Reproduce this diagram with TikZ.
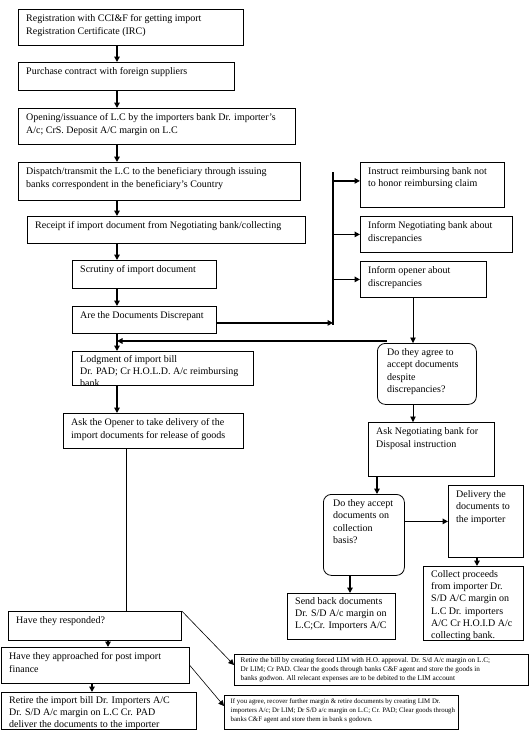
\documentclass[tikz,border=0pt]{standalone}
\usepackage{fontspec}
\setmainfont{Liberation Serif}
\usetikzlibrary{arrows.meta}

\tikzset{
  box/.style={draw, line width=0.8pt, anchor=north west, inner sep=0pt},
  roundbox/.style={box, rounded corners=8pt},
  boxtext/.style={anchor=north west, align=left, inner xsep=8pt, inner ysep=5.5pt,
    font=\fontsize{10}{12.3}\selectfont},
  smalltext/.style={boxtext, inner xsep=6.5pt, inner ysep=3.5pt, font=\fontsize{7.2}{9}\selectfont},
  link/.style={line width=1.6pt, -{Triangle[length=5.5pt,width=5.5pt]}},
  thinlink/.style={line width=0.6pt, -{Triangle[length=5.5pt,width=5.5pt]}},
}

% #1 box style, #2 name, #3 x, #4 y, #5 width, #6 height, #7 text style, #8 text
\newcommand{\stepnode}[8]{%
  \node[#1, minimum width=#5pt, minimum height=#6pt] (#2) at (#3,#4) {};
  \begin{scope}
    \clip (#2.north west) rectangle (#2.south east);
    \node[#7] (#2-txt) at (#2.north west) {#8};
  \end{scope}}

\begin{document}
\begin{tikzpicture}[x=1pt, y=-1pt]
  \useasboundingbox (0,0) rectangle (530,756);
  \path (117,0) coordinate (spine);
  \path (126,0) coordinate (drop);
  \path (413,0) coordinate (rcol);
  \path (333,172) coordinate (forktop);
  \path (333,325) coordinate (forkbot);

  \stepnode{box}{reg}{18}{9}{225}{36}{boxtext}{Registration with CCI\&F for getting import\\Registration Certificate (IRC)}
  \stepnode{box}{purch}{18}{62}{216}{28}{boxtext}{Purchase contract with foreign suppliers}
  \stepnode{box}{open}{18}{108}{277}{36}{boxtext}{Opening/issuance of L.C by the importers bank Dr. importer’s\\A/c; CrS. Deposit A/C margin on L.C}
  \stepnode{box}{disp}{18}{162}{282}{38}{boxtext}{Dispatch/transmit the L.C to the beneficiary through issuing\\banks correspondent in the beneficiary’s Country}
  \stepnode{box}{receipt}{27}{216}{278}{27}{boxtext}{Receipt if import document from Negotiating bank/collecting}
  \stepnode{box}{scrut}{72}{260}{144}{28}{boxtext}{Scrutiny of import document}
  \stepnode{box}{discr}{72}{306}{144}{27}{boxtext}{Are the Documents Discrepant}
  \stepnode{box}{lodg}{72}{351}{181}{34}{boxtext, inner ysep=4pt}{Lodgment of import bill\\Dr. PAD; Cr H.O.L.D. A/c reimbursing\\bank}
  \stepnode{box}{opener}{63}{413}{180}{35}{boxtext}{Ask the Opener to take delivery of the\\import documents for release of goods}
  \stepnode{box}{resp}{8}{611}{173}{29}{boxtext}{Have they responded?}
  \stepnode{box}{appr}{1}{647}{188}{36}{boxtext}{Have they approached for post import\\finance}
  \stepnode{box}{retimp}{1}{692}{195}{37}{boxtext, inner ysep=4pt}{Retire the import bill Dr. Importers A/C\\Dr. S/D A/c margin on L.C Cr. PAD\\deliver the documents to the importer}

  \stepnode{box}{instr}{360}{162}{144}{45}{boxtext}{Instruct reimbursing bank not\\to honor reimbursing claim}
  \stepnode{box}{infneg}{360}{216}{152}{36}{boxtext}{Inform Negotiating bank about\\discrepancies}
  \stepnode{box}{infop}{360}{261}{126}{36}{boxtext}{Inform opener about\\discrepancies}
  \stepnode{roundbox}{agree}{377}{343}{99}{61}{boxtext, inner xsep=10pt}{Do they agree to\\accept documents\\despite\\discrepancies?}
  \stepnode{box}{askneg}{368}{422}{126}{54}{boxtext}{Ask Negotiating bank for\\Disposal instruction}
  \stepnode{roundbox}{accept}{323}{494}{81}{81}{boxtext, inner xsep=10pt}{Do they accept\\documents on\\collection\\basis?}
  \stepnode{box}{deliver}{448}{485}{75}{72}{boxtext}{Delivery the\\documents to\\the importer}
  \stepnode{box}{collect}{423}{566}{100}{74}{boxtext, inner ysep=4pt}{Collect proceeds\\from importer Dr.\\S/D A/C margin on\\L.C Dr. importers\\A/C Cr H.O.I.D A/c\\collecting bank.}
  \stepnode{box}{sendback}{287}{593}{108}{46}{boxtext, inner ysep=4pt}{Send back documents\\Dr. S/D A/c margin on\\L.C;Cr. Importers A/C}
  \stepnode{box}{forced}{234}{654}{294}{31}{smalltext}{Retire the bill by creating forced LIM with H.O. approval. Dr. S/d A/c margin on L.C;\\Dr LIM; Cr PAD. Clear the goods through banks C\&F agent and store the goods in\\banks godwon. All relecant expenses are to be debited to the LIM account}
  \stepnode{box}{agreeLIM}{224}{695}{234}{34}{smalltext, font=\fontsize{6.85}{9}\selectfont}{If you agree, recover further margin \& retire documents by creating LIM Dr.\\importers A/c; Dr LIM; Dr S/D a/c margin on L.C; Cr. PAD; Clear goods through\\banks C\&F agent and store them in bank s godown.}

  \draw[link] (reg.south -| spine) -- (purch.north -| spine);
  \draw[link] (purch.south -| spine) -- (open.north -| spine);
  \draw[link] (open.south -| spine) -- (disp.north -| spine);
  \draw[link] (disp.south -| spine) -- (receipt.north -| spine);
  \draw[link] (receipt.south -| spine) -- (scrut.north -| spine);
  \draw[link] (scrut.south -| spine) -- (discr.north -| spine);
  \draw[link] (discr.south -| spine) -- (lodg.north -| spine);
  \draw[link] (lodg.south -| spine) -- (opener.north -| spine);
  \draw[line width=0.8pt] (opener.south -| drop) -- (resp.north -| drop);
  \draw[link] (resp.south -| 108,0) -- (appr.north -| 108,0);
  \draw[link] (appr.south -| 92,0) -- (retimp.north -| 92,0);

  \draw[line width=1.2pt] (forktop) -- (forkbot);
  \draw[link] ([yshift=-3pt]discr.east) -- ([yshift=-3pt]discr.east -| forkbot);
  \draw[link] ([yshift=4pt]instr.west -| forktop) -- ([yshift=4pt]instr.west);
  \draw[link] (infneg.west -| forktop) -- (infneg.west);
  \draw[link] (infop.west -| forktop) -- (infop.west);

  \draw[thinlink] (infop.south -| rcol) -- (agree.north -| rcol);
  \draw[thinlink] (agree.south -| rcol) -- (askneg.north -| rcol);
  \path ([xshift=10pt,yshift=2pt]agree.north west) coordinate (agreein);
  \draw[link] (agreein) -- (agreein -| spine);
  \draw[link] (askneg.south -| 377,0) -- (accept.north -| 377,0);
  \draw[link] (deliver.west -| accept.east) -- (deliver.west);
  \draw[link] (deliver.south -| 477,0) -- (collect.north -| 477,0);
  \draw[link] (accept.south -| 350,0) -- (sendback.north -| 350,0);

  \draw[thinlink] (resp.north east) -- ([yshift=-11pt]forced.north west);
  \draw[thinlink] (appr.east) -- ([yshift=-11pt]agreeLIM.north west);
\end{tikzpicture}
\end{document}
